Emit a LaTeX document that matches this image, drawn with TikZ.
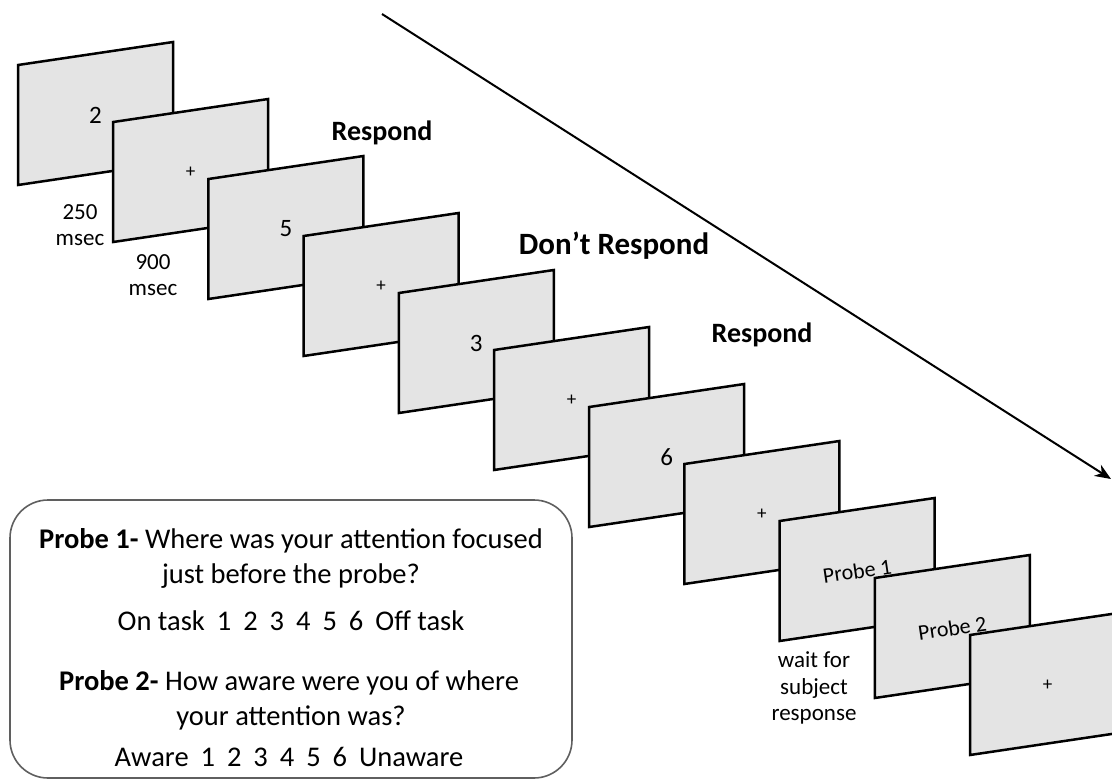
\documentclass[tikz,border=0pt]{standalone}
\usepackage{fontspec}
\setmainfont{Carlito}
\usetikzlibrary{arrows.meta,calc}
\definecolor{cardfill}{RGB}{228,228,228}
\definecolor{boxline}{RGB}{95,95,95}
\newcommand{\fs}[2]{\fontsize{#1}{#2}\selectfont}
\newcommand{\stimcard}[3]{%
  \coordinate (c#1) at ({18+95.2*#1},{65+57*#1});
  \draw[card] (c#1) -- ++(155,-23) -- ++(0,120) -- ++(-155,23) -- cycle;
  \node[cardtxt,#3] (t#1) at ($(c#1)+(77.5,50)$) {#2};
}
\newcommand{\gp}{\hspace{0.42em}}
\begin{document}
\begin{tikzpicture}[x=1pt,y=-1pt,
  card/.style={draw=black, line width=2.5pt, fill=cardfill, line join=miter},
  cardtxt/.style={font=\fs{25}{30}, inner sep=0pt},
  plus/.style={font=\fs{19}{23}},
  probetxt/.style={font=\fs{22}{26}, rotate=8.5},
  lab/.style={font=\fs{23}{26.5}, align=center, inner sep=0pt},
  cue/.style={font=\bfseries\fs{28}{32}, inner sep=0pt},
  cuebig/.style={font=\bfseries\fs{31}{36}, inner sep=0pt},
  timeline/.style={line width=2pt, -{Stealth[length=16pt,width=13pt,inset=5pt]}},
  probebox/.style={draw=boxline, line width=1.6pt, rounded corners=38pt, fill=white},
  boxtxt/.style={font=\fs{28.5}{32}, inner sep=0pt}
]
\useasboundingbox (0,0) rectangle (1112,780);
\clip (0,0) rectangle (1112,780);

% time arrow
\coordinate (a0) at (382,14);
\coordinate (a1) at (1111,479);
\draw[timeline] (a0) -- (a1);

% stimulus cards
\stimcard{0}{2}{}
\stimcard{1}{+}{plus}
\stimcard{2}{5}{}
\stimcard{3}{+}{plus}
\stimcard{4}{3}{}
\stimcard{5}{+}{plus}
\stimcard{6}{6}{}
\stimcard{7}{+}{plus}
\stimcard{8}{Probe 1}{probetxt}
\stimcard{9}{Probe 2}{probetxt}
\stimcard{10}{+}{plus}

% labels
\node[lab] (l250) at (80,225) {250\\msec};
\node[lab] (l900) at (153,275) {900\\msec};
\node[lab] (lwait) at (814,688) {wait for\\subject\\response};

\node[cue] (r1) at (382,133) {Respond};
\node[cuebig] (dr) at (614,246) {Don’t Respond};
\node[cue] (r2) at (762,335) {Respond};

% probe box
\node[probebox, minimum width=562pt, minimum height=278pt, inner sep=0pt] (box) at (291,639) {};
\node[boxtxt] (p1a) at (291,541) {\textbf{Probe 1-} Where was your attention focused};
\node[boxtxt] (p1b) at (291,576) {just before the probe?};
\node[boxtxt] (p1c) at (291,621) {On task\gp 1\gp 2\gp 3\gp 4\gp 5\gp 6\gp Off task};
\node[boxtxt] (p2a) at (289,683) {\textbf{Probe 2-} How aware were you of where};
\node[boxtxt] (p2b) at (291,718) {your attention was?};
\node[boxtxt] (p2c) at (289,757) {Aware\gp 1\gp 2\gp 3\gp 4\gp 5\gp 6\gp Unaware};
\end{tikzpicture}
\end{document}
